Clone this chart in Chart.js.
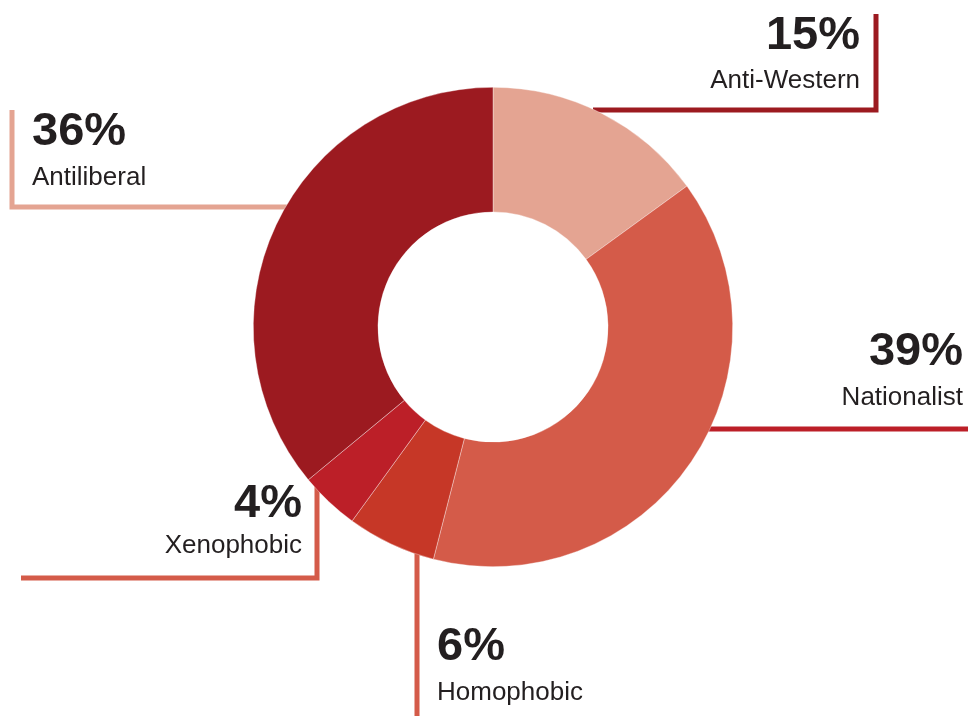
<!DOCTYPE html>
<html>
<head>
<meta charset="utf-8">
<script src="https://cdn.jsdelivr.net/npm/chart.js@4"></script>
<style>
  html, body { margin: 0; padding: 0; background: #ffffff; }
  #wrap { width: 968px; height: 716px; }
</style>
</head>
<body>
<div id="wrap"><canvas id="rhetoric-chart" width="968" height="716"></canvas></div>
<script>
// Data
const categories = ['Anti-Western', 'Nationalist', 'Homophobic', 'Xenophobic', 'Antiliberal'];
const shares = [15, 39, 6, 4, 36];
const sliceColors = ['#E4A492', '#D45B49', '#C63727', '#BC1F28', '#9C1A20'];

// Callout leader lines and label spots, as offsets from the doughnut centre
const callouts = [
    { color: '#9C1A20', path: [[100, -217], [383, -217], [383, -313]], align: 'right', tx: 367, pctY: -278, labY: -239 },
    { color: '#BC1F28', path: [[200, 102], [480, 102]], align: 'right', tx: 470, pctY: 38, labY: 78 },
    { color: '#D45B49', path: [[-76, 200], [-76, 395]], align: 'left', tx: -56, pctY: 333, labY: 373 },
    { color: '#D45B49', path: [[-176, 100], [-176, 251], [-472, 251]], align: 'right', tx: -191, pctY: 190, labY: 226 },
    { color: '#E4A492', path: [[-150, -120], [-481, -120], [-481, -217]], align: 'left', tx: -461, pctY: -182, labY: -142 }
];

const calloutPlugin = {
    id: 'callouts',
    beforeDatasetsDraw(chart) {
        const arc = chart.getDatasetMeta(0).data[0];
        if (!arc) return;
        const ctx = chart.ctx;
        ctx.save();
        ctx.lineWidth = 5;
        ctx.lineJoin = 'miter';
        ctx.lineCap = 'butt';
        callouts.forEach(c => {
            ctx.strokeStyle = c.color;
            ctx.beginPath();
            c.path.forEach((p, i) => {
                const x = arc.x + p[0];
                const y = arc.y + p[1];
                if (i === 0) ctx.moveTo(x, y); else ctx.lineTo(x, y);
            });
            ctx.stroke();
        });
        ctx.restore();
    },
    afterDatasetsDraw(chart) {
        const arc = chart.getDatasetMeta(0).data[0];
        if (!arc) return;
        const ctx = chart.ctx;
        ctx.save();
        ctx.fillStyle = '#231F20';
        ctx.textBaseline = 'alphabetic';
        callouts.forEach((c, i) => {
            ctx.textAlign = c.align;
            ctx.font = 'bold 47px "Liberation Sans", Arial, sans-serif';
            ctx.fillText(shares[i] + '%', arc.x + c.tx, arc.y + c.pctY);
            ctx.font = '26px "Liberation Sans", Arial, sans-serif';
            ctx.fillText(categories[i], arc.x + c.tx, arc.y + c.labY);
        });
        ctx.restore();
    }
};

new Chart(document.getElementById('rhetoric-chart'), {
    type: 'doughnut',
    data: {
        labels: categories,
        datasets: [{
            data: shares,
            backgroundColor: sliceColors,
            borderColor: 'rgba(255, 255, 255, 0.6)',
            borderWidth: 0.6
        }]
    },
    options: {
        responsive: false,
        animation: false,
        cutout: '48%',
        layout: {
            padding: { left: 253, top: 87, right: 235, bottom: 149 }
        },
        plugins: {
            legend: { display: false },
            tooltip: { enabled: false }
        }
    },
    plugins: [calloutPlugin]
});
</script>
</body>
</html>
